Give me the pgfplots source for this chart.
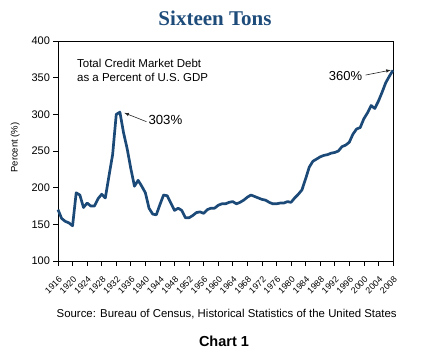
\documentclass[border=0pt]{standalone}
\usepackage{pgfplots}
\pgfplotsset{compat=1.18}
\usepackage{fontspec}
\setmainfont{Liberation Sans}
\newfontfamily\titlefont{Liberation Serif}
\definecolor{navy}{RGB}{28,74,120}
\definecolor{titleblue}{RGB}{30,76,122}
\begin{document}
\begin{tikzpicture}
\begin{axis}[
  at={(0,0)}, anchor=south west,
  scale only axis, width=335pt, height=220pt,
  xmin=1916, xmax=2008, ymin=100, ymax=400,
  xtick={1916,1920,...,2008},
  ytick={100,150,...,400},
  tick align=outside,
  xtick pos=bottom, ytick pos=left,
  major tick length=4.5pt,
  x tick label style={rotate=45, anchor=north east, font=\fontsize{8.8}{9}\selectfont, inner sep=0pt, xshift=-7pt, yshift=-7.3pt},
  y tick label style={font=\fontsize{11}{12}\selectfont},
  /pgf/number format/assume math mode=true,
  /pgf/number format/set thousands separator={},
  ylabel={Percent (\%)},
  ylabel style={font=\fontsize{9.5}{11}\selectfont, at={(axis description cs:-0.128,0.516)}, anchor=center},
  axis line style={line width=0.8pt},
  tick style={line width=0.7pt, black},
  clip=false,
]
\addplot[navy, line width=2.7pt, line join=round] coordinates {
(1916,170) (1917,158) (1918,154) (1919,152) (1920,148) (1921,193) (1922,190)
(1923,173) (1924,179) (1925,175) (1926,175) (1927,185) (1928,191) (1929,186)
(1930,216) (1931,245) (1932,300) (1933,303) (1934,275) (1935,253) (1936,226)
(1937,202) (1938,210) (1939,202) (1940,193) (1941,172) (1942,164) (1943,163)
(1944,177) (1945,190) (1946,189) (1947,179) (1948,169) (1949,172) (1950,169)
(1951,159) (1952,159) (1953,162) (1954,166) (1955,167) (1956,165) (1957,170)
(1958,172) (1959,172) (1960,176) (1961,178) (1962,178) (1963,180) (1964,181)
(1965,178) (1966,180) (1967,183) (1968,187) (1969,190) (1970,188) (1971,186)
(1972,184) (1973,183) (1974,180) (1975,178) (1976,178) (1977,179) (1978,179)
(1979,181) (1980,180) (1981,186) (1982,191) (1983,197) (1984,212) (1985,228)
(1986,236) (1987,239) (1988,242) (1989,244) (1990,245) (1991,247) (1992,248)
(1993,250) (1994,256) (1995,258) (1996,262) (1997,273) (1998,280) (1999,282)
(2000,294) (2001,302) (2002,312) (2003,308) (2004,318) (2005,330) (2006,343)
(2007,352) (2008,360)
};
\node[anchor=base west, font=\fontsize{11.5}{13}\selectfont, inner sep=0pt] at (axis cs:1921.2,363.6) {Total Credit Market Debt};
\node[anchor=base west, font=\fontsize{11.5}{13}\selectfont, inner sep=0pt] at (axis cs:1921.2,344.5) {as a Percent of U.S. GDP};
\node[anchor=base west, font=\fontsize{13.2}{15}\selectfont, inner sep=0pt] at (axis cs:1940.8,286.8) {303\%};
\node[anchor=base east, font=\fontsize{13}{15}\selectfont, inner sep=0pt] at (axis cs:1999.6,345.5) {360\%};
\draw[-latex, line width=0.6pt, black!85] (axis cs:1940.3,290) -- (axis cs:1934.2,302);
\draw[-latex, line width=0.6pt, black!85] (axis cs:2000.5,353.6) -- (axis cs:2007.4,360.3);
\end{axis}
\node[anchor=base, font=\titlefont\bfseries\fontsize{21}{24}\selectfont, text=titleblue, inner sep=0pt] at (157pt,236pt) {Sixteen Tons};
\node[anchor=base, font=\fontsize{11.4}{13}\selectfont, inner sep=0pt] at (168.7pt,-56pt) {Source: Bureau of Census, Historical Statistics of the United States};
\node[anchor=base, font=\bfseries\fontsize{14.5}{16}\selectfont, inner sep=0pt] at (166pt,-85pt) {Chart 1};
\pgfresetboundingbox
\path (-58pt,-99pt) rectangle (371pt,261pt);
\end{tikzpicture}
\end{document}
